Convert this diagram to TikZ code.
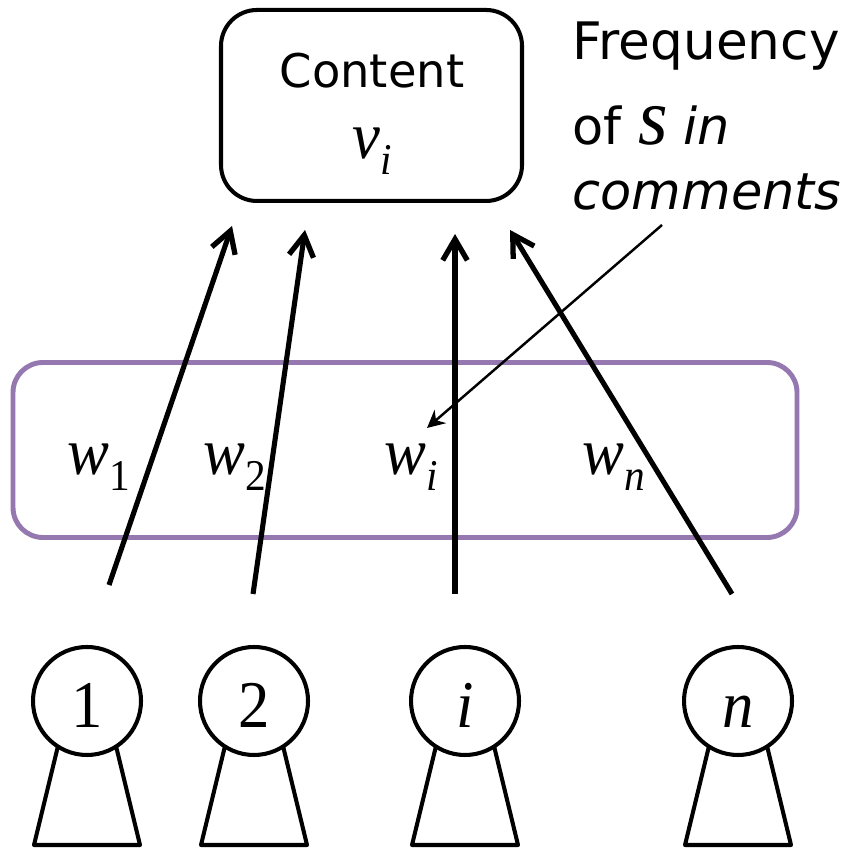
\documentclass[tikz,border=0pt]{standalone}
\usepackage{fontspec}
\setmainfont{DejaVu Sans}
\newfontfamily\serifup[FakeStretch=0.94]{Liberation Serif}
\newfontfamily\serifit[FakeStretch=0.94]{Liberation Serif Italic}
\usetikzlibrary{arrows.meta}
\definecolor{boxpurple}{RGB}{148,120,175}
\newcommand{\bigsym}[1]{{\fontsize{19}{19}\selectfont #1}}
\newcommand{\subsym}[1]{\raisebox{-0.155cm}{\fontsize{12.5}{12.5}\selectfont #1}}
\tikzset{
    sans/.style={inner sep=0pt,anchor=base west,font=\fontsize{14.5}{14.5}\selectfont},
    sym/.style={inner sep=0pt,anchor=base west},
    userhead/.style={draw,circle,fill=white,minimum size=1.08cm,inner sep=0pt,text height=0.54cm,text depth=0pt},
    userline/.style={line width=1.15pt,line join=round},
    votearrow/.style={-{Straight Barb[length=6pt,width=7pt,line width=1.5pt]},line width=1.45pt},
    pointer/.style={-{Stealth[length=5pt,width=5pt]},line width=0.7pt},
}

\begin{document}
\begin{tikzpicture}
    \useasboundingbox (0,0) rectangle (8.48,8.5);
    \node[draw,userline,rectangle,rounded corners=0.36cm,minimum width=3.01cm,minimum height=1.91cm,inner sep=0pt] (content) at (3.715,7.445) {};
    \node[inner sep=0pt,anchor=base,font=\fontsize{13.2}{13.2}\selectfont] (contenttext) at (3.72,7.62) {Content};
    \node[sym] (vi) at (3.52,6.91) {\bigsym{\serifit v}\subsym{\serifit i}};
    \node[sans,font=\fontsize{14.7}{14.7}\selectfont] (freq1) at (5.72,7.9) {Frequency};
    \node[sans] (freq2) at (5.72,7.05) {of {\fontsize{23}{23}\selectfont\serifit s} \textit{in}};
    \node[sans] (freq3) at (5.72,6.4) {\textit{comments}};
    \node[draw=boxpurple,line width=1.4pt,rectangle,rounded corners=0.3cm,minimum width=7.84cm,minimum height=1.75cm,inner sep=0pt] (weights) at (4.05,4.0) {};
    \node[sym] (w1) at (0.67,3.75) {\bigsym{\serifit w}\subsym{\serifup 1}};
    \node[sym] (w2) at (2.03,3.75) {\bigsym{\serifit w}\subsym{\serifup 2}};
    \node[sym] (wi) at (3.84,3.75) {\bigsym{\serifit w}\subsym{\serifit i}};
    \node[sym] (wn) at (5.82,3.75) {\bigsym{\serifit w}\subsym{\serifit n}};
    % users
    \foreach \name/\x/\xt in {1/0.87/\serifup 1,2/2.54/\serifup 2,i/4.65/\serifit i,n/7.38/\serifit n}{
        \draw[userline,shift={(\x,0)}] (-0.29,1.04) -- (-0.53,0.05) -- (0.53,0.05) -- (0.29,1.04);
        \node[userhead,userline] (user\name) at (\x,1.49) {\bigsym{\xt}};
    }
    % arrows
    \foreach \name/\fx/\fy/\tx/\ty in {1/1.09/2.65/2.32/6.24,2/2.53/2.56/3.05/6.2,i/4.55/2.56/4.55/6.16,n/7.32/2.56/5.1/6.2}{
        \coordinate (from\name) at (\fx,\fy);
        \coordinate (to\name) at (\tx,\ty);
        \draw[votearrow] (from\name) -- (to\name);
    }
    \coordinate (pointfrom) at (6.62,6.25);
    \coordinate (pointto) at (4.27,4.22);
    \draw[pointer] (pointfrom) -- (pointto);
\end{tikzpicture}
\end{document}
